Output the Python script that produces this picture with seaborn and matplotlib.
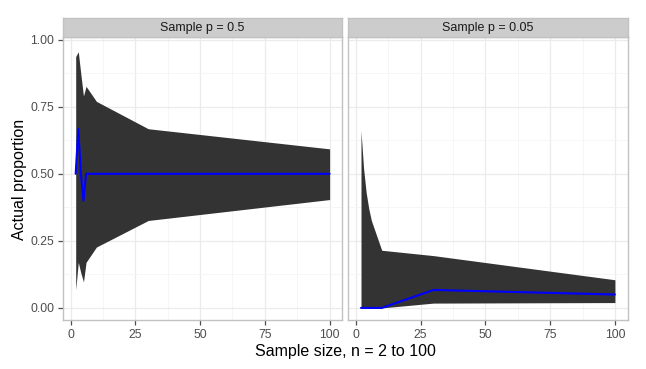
import numpy as np
import pandas as pd
import matplotlib
matplotlib.use("Agg")
import matplotlib.pyplot as plt
from matplotlib.ticker import MultipleLocator, FixedLocator
import seaborn as sns

# ---- data ----
sample_n = [2, 3, 4, 5, 6, 10, 30, 100]
panel_titles = ["Sample p = 0.5", "Sample p = 0.05"]

mean_p05 = [0.50, 0.667, 0.50, 0.40, 0.50, 0.50, 0.50, 0.50]
lower_p05 = [0.067, 0.17, 0.13, 0.097, 0.17, 0.227, 0.326, 0.404]
upper_p05 = [0.937, 0.955, 0.87, 0.79, 0.826, 0.77, 0.668, 0.593]

mean_p005 = [0.0, 0.0, 0.0, 0.0, 0.0, 0.0, 0.067, 0.05]
lower_p005 = [0.0, 0.0, 0.0, 0.0, 0.0, 0.0, 0.018, 0.02]
upper_p005 = [0.66, 0.52, 0.43, 0.37, 0.326, 0.215, 0.195, 0.105]

x_ticks = [0, 25, 50, 75, 100]
y_ticks = [0.0, 0.25, 0.5, 0.75, 1.0]
y_tick_labels = ["0.00", "0.25", "0.50", "0.75", "1.00"]

df = pd.concat([
    pd.DataFrame({"n": sample_n, "mean": mean_p05, "lo": lower_p05, "hi": upper_p05, "panel": panel_titles[0]}),
    pd.DataFrame({"n": sample_n, "mean": mean_p005, "lo": lower_p005, "hi": upper_p005, "panel": panel_titles[1]}),
])

sns.set_theme(style="white")
plt.rcParams["font.family"] = ["Liberation Sans", "DejaVu Sans"]

W, H = 646, 369
fig = plt.figure(figsize=(W / 100, H / 100), dpi=100)

panel_left = [63, 348.3]
panel_w = 279.3
panel_top = 37
panel_bot = 320
strip_top = 18

border_col = "#C2C2C2"

for i, title in enumerate(panel_titles):
    sub = df[df["panel"] == title]
    ax = fig.add_axes([panel_left[i] / W, 1 - panel_bot / H, panel_w / W, (panel_bot - panel_top) / H])
    ax.set_facecolor("white")
    ax.fill_between(sub["n"], sub["lo"], sub["hi"], color="#333333", linewidth=0, zorder=2)
    sns.lineplot(data=sub, x="n", y="mean", ax=ax, color="#0000FF", linewidth=1.5, zorder=3)
    ax.set_xlim(-2.9, 104.9)
    ax.set_ylim(-0.045, 1.01)
    ax.xaxis.set_major_locator(FixedLocator(x_ticks))
    ax.xaxis.set_minor_locator(MultipleLocator(12.5))
    ax.yaxis.set_major_locator(FixedLocator(y_ticks))
    ax.yaxis.set_minor_locator(MultipleLocator(0.125))
    ax.grid(True, which="major", color="#EBEBEB", linewidth=0.9, zorder=0)
    ax.grid(True, which="minor", color="#F5F5F5", linewidth=0.6, zorder=0)
    ax.set_axisbelow(True)
    for s in ax.spines.values():
        s.set_color(border_col)
        s.set_linewidth(1.0)
    ax.tick_params(axis="both", which="major", length=3.3, width=0.9, color="#4D4D4D",
                   labelsize=8.8, labelcolor="#4D4D4D", bottom=True, left=(i == 0), pad=3.0)
    ax.tick_params(axis="both", which="minor", length=0)
    ax.set_xticklabels([str(t) for t in x_ticks])
    if i == 0:
        ax.set_yticklabels(y_tick_labels)
    else:
        ax.set_yticklabels([])
    ax.set_ylabel("")
    ax.set_xlabel("")
    # strip
    sax = fig.add_axes([panel_left[i] / W, 1 - panel_top / H, panel_w / W, (panel_top - strip_top) / H])
    sax.set_facecolor("#CCCCCC")
    sax.set_xticks([]); sax.set_yticks([])
    for s in sax.spines.values():
        s.set_color(border_col)
        s.set_linewidth(1.0)
    sax.text(0.5, 0.5, title, ha="center", va="center", fontsize=9, color="#1A1A1A",
             transform=sax.transAxes)

fig.text((63 + 627.3) / 2 / W, 1 - 356 / H, "Sample size, n = 2 to 100", ha="center", va="baseline",
         fontsize=11.5, color="black")
fig.text(19.7 / W, 1 - 179 / H, "Actual proportion", ha="center", va="center", rotation=90,
         fontsize=11.5, color="black")

fig.savefig("out.png", dpi=100)
